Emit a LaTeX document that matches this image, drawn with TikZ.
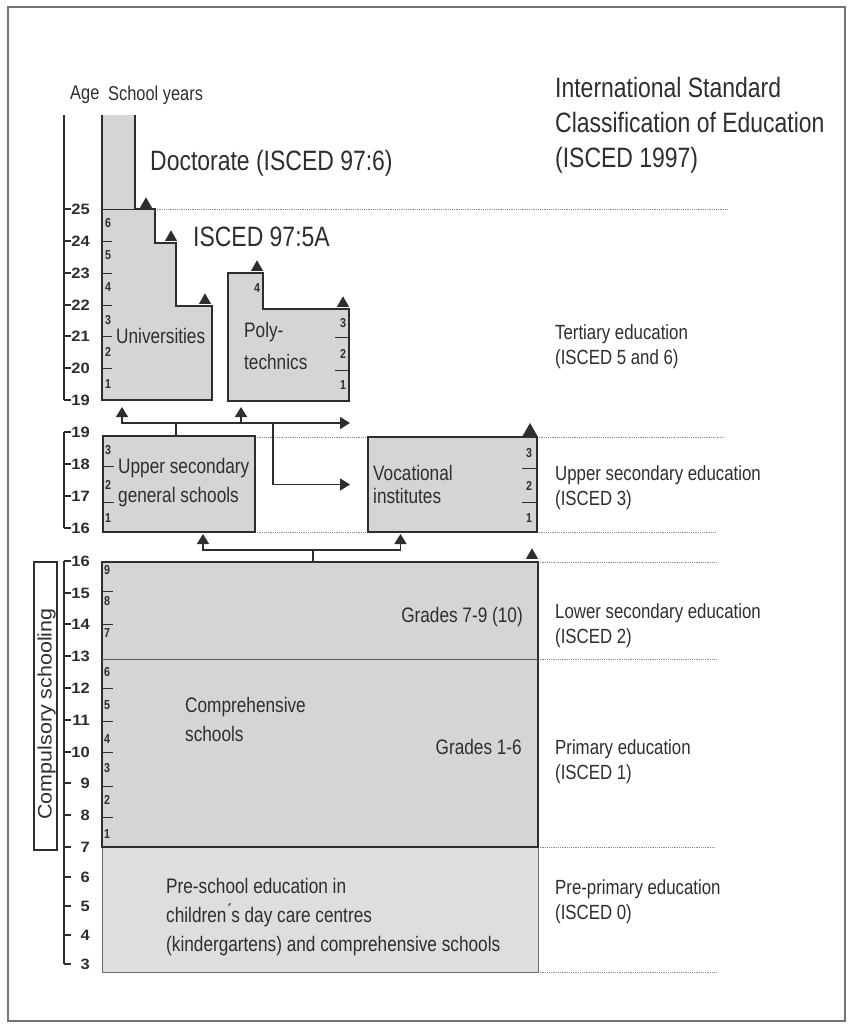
\documentclass[tikz,border=0pt]{standalone}
\usepackage{fontspec}
\setmainfont{Liberation Sans}[FakeStretch=0.82]
\newfontfamily\agefont{Liberation Sans}[FakeStretch=1.1]
\usetikzlibrary{arrows.meta,positioning,shapes.geometric}
\definecolor{ink}{HTML}{2E2E2E}
\definecolor{boxgray}{HTML}{D5D5D5}
\definecolor{palegray}{HTML}{DEDEDE}
\definecolor{rule}{HTML}{8A8A8A}
\tikzset{
    every picture/.style={line join=miter},
    schoolbox/.style={draw=ink,fill=boxgray,line width=2.2pt,inner sep=0pt,outer sep=0pt},
    levelline/.style={draw=rule,line width=0.9pt,dash pattern=on 1.2pt off 1pt},
    frameline/.style={draw=black!55,line width=1.2pt},
    agescale/.style={draw=ink,line width=1.4pt},
    yeartick/.style={draw=ink,line width=1pt},
    yearno/.style={font=\fontsize{13}{13}\selectfont\bfseries,text=ink,inner sep=0pt},
    agelabel/.style={font=\agefont\fontsize{15}{15}\selectfont\bfseries,anchor=east,inner sep=0pt,text=ink},
    headlabel/.style={font=\fontsize{20}{20}\selectfont,anchor=west,inner sep=0pt,text=ink},
    boxlabel/.style={font=\fontsize{21}{29}\selectfont,align=left,anchor=west,inner sep=0pt,text=ink},
    levellabel/.style={font=\fontsize{20.5}{25}\selectfont,align=left,anchor=west,inner sep=0pt,text=ink},
    biglabel/.style={font=\fontsize{28}{35}\selectfont,align=left,anchor=west,inner sep=0pt,text=ink},
    marker/.style={regular polygon,regular polygon sides=3,fill=ink,inner sep=0pt,
      minimum size=14pt,anchor=south},
    flowarrow/.style={-{Triangle[length=10pt,width=12pt]},draw=ink,line width=1.6pt},
    flowline/.style={draw=ink,line width=1.6pt}
}
\begin{document}
\begin{tikzpicture}[x=1pt,y=-1pt]
  \useasboundingbox (0,0) rectangle (852,1028);
  \draw[frameline] (8,7) rectangle (845,1021);

  % age scale, in three pieces
  \node[headlabel] (agehead) at (70,95) {Age};
  \node[headlabel] (yearhead) at (108,95) {School years};
  \draw[agescale] (64,115) -- (64,400);
  \foreach \age/\y in {25/209,24/241,23/273,22/305,21/336,20/368,19/400} {
    \draw[agescale] (64,\y) -- (71,\y);
    \node[agelabel] (tage\age) at (90,\y) {\age};
  }
  \draw[agescale] (64,432) -- (64,528);
  \foreach \age/\y in {19/432,18/464,17/496,16/528} {
    \draw[agescale] (64,\y) -- (71,\y);
    \node[agelabel] (uage\age) at (90,\y) {\age};
  }
  \draw[agescale] (64,561) -- (64,964);
  \foreach \age/\y in {16/561,15/593,14/624,13/656,12/688,11/720,10/752,9/783,8/815,
                       7/847,6/877,5/906,4/935,3/964} {
    \draw[agescale] (64,\y) -- (71,\y);
    \node[agelabel] (lage\age) at (90,\y) {\age};
  }
  \node[draw=ink,line width=1.2pt,minimum width=23pt,minimum height=288pt,inner sep=0pt]
    (compulsory) at (45.5,706) {};
  \node[rotate=90,font=\agefont\fontsize{19.5}{19.5}\selectfont,text=ink,inner sep=0pt]
    (compulsorytext) at ([xshift=1pt,yshift=-8pt]compulsory.center) {Compulsory schooling};

  % level lines
  \draw[levelline] (155,209) -- (728,209);
  \draw[levelline] (255,437) -- (368,437) (537,437) -- (722,437);
  \draw[levelline] (255,532) -- (368,532) (537,532) -- (717,532);
  \draw[levelline] (538,562) -- (718,562);
  \draw[levelline] (538,659) -- (718,659);
  \draw[levelline] (538,847) -- (715,847);
  \draw[levelline] (538,972) -- (718,972);

  % tertiary: doctorate and universities
  \fill[boxgray] (102,115) rectangle (135,209);
  \fill[boxgray] (102,209) -- (155,209) -- (155,243) -- (176,243) -- (176,306)
    -- (212,306) -- (212,400) -- (102,400) -- cycle;
  \draw[draw=ink,line width=2.2pt] (135,115) -- (135,209) -- (155,209) -- (155,243)
    -- (176,243) -- (176,306) -- (212,306) -- (212,400) -- (102,400) -- (102,115);
  \draw[yeartick] (102,209) -- (135,209);
  \foreach \y in {241,273,305,336,368}
    \draw[yeartick] (102,\y) -- (112,\y);
  \foreach \n/\y in {6/223,5/255,4/287,3/320,2/352,1/384}
    \node[yearno] (univyear\n) at (108,\y) {\n};
  \coordinate (univ-in) at (122,400);

  \draw[schoolbox] (228,273) -- (263,273) -- (263,309) -- (349,309) -- (349,401)
    -- (228,401) -- cycle;
  \foreach \y in {337,370}
    \draw[yeartick] (335,\y) -- (349,\y);
  \node[yearno] (polyyear4) at (257,288) {4};
  \foreach \n/\y in {3/323,2/354,1/385}
    \node[yearno] (polyyear\n) at (343,\y) {\n};
  \coordinate (poly-in) at (241,401);

  \node[marker] (doc-up) at (146,208) {};
  \node[marker] (masters-up) at (171,241) {};
  \node[marker] (univ-up) at (205,304) {};
  \node[marker] (poly-up) at (257,271) {};
  \node[marker] (polyend-up) at (343,307) {};

  \node[biglabel] (doctorate) at (150,163) {Doctorate (ISCED 97:6)};
  \node[biglabel] (isced5a) at (193,237) {ISCED 97:5A};
  \node[boxlabel] (univtext) at (116,336) {Universities};
  \node[boxlabel,font=\fontsize{21}{32}\selectfont] (polytext) at (244,346) {Poly-\\technics};

  % upper secondary
  \node[schoolbox,minimum width=152pt,minimum height=96pt] (gensec) at (179,484) {};
  \foreach \y in {466,502}
    \draw[yeartick] (103,\y) -- (114,\y);
  \foreach \n/\y in {3/450,2/485,1/518}
    \node[yearno] (gensecyear\n) at (108,\y) {\n};
  \node[boxlabel] (gensectext) at (118,483) {Upper secondary\\general schools};

  \node[schoolbox,minimum width=169pt,minimum height=95pt] (voc) at (452.5,484.5) {};
  \foreach \y in {468,502}
    \draw[yeartick] (522,\y) -- (537,\y);
  \foreach \n/\y in {3/453,2/486,1/518}
    \node[yearno] (vocyear\n) at (529,\y) {\n};
  \node[boxlabel,font=\fontsize{21}{23}\selectfont] (voctext) at (373,484) {Vocational\\institutes};
  \node[marker,minimum size=17pt] (voc-up) at (530,436) {};

  % comprehensive and pre-school
  \node[draw=ink!70,fill=palegray,line width=0.9pt,minimum width=436pt,minimum height=125pt,
    inner sep=0pt] (preschool) at (320,909.5) {};
  \node[schoolbox,minimum width=436pt,minimum height=285pt] (comp) at (320,704.5) {};
  \draw[yeartick,draw=ink!80,line width=0.8pt] (comp.west |- 0,659) -- (comp.east |- 0,659);
  \foreach \y in {591,624,688,721,752,786,817}
    \draw[yeartick] (102,\y) -- (113,\y);
  \foreach \n/\y in {9/570,8/601,7/633,6/672,5/705,4/739,3/768,2/800,1/834}
    \node[yearno] (compyear\n) at (107,\y) {\n};
  \node[marker] (comp-up) at (532,559) {};
  \node[boxlabel,anchor=east] (upper-grades) at (523,617) {Grades 7-9 (10)};
  \node[boxlabel] (comptext) at (185,719) {Comprehensive\\schools};
  \node[boxlabel,anchor=east] (lower-grades) at (522,747) {Grades 1-6};
  \node[boxlabel] (pretext) at (166,917)
    {Pre-school education in\\children\'{}s day care centres\\(kindergartens) and comprehensive schools};

  % connectors
  \coordinate (fork19) at (176,423);
  \coordinate (split) at (273,423);
  \draw[flowline] (gensec.north -| fork19) -- (fork19);
  \draw[flowarrow,shorten >=7pt] (fork19) -| (univ-in);
  \draw[flowarrow,shorten >=6pt] (fork19) -| (poly-in);
  \draw[flowarrow,shorten >=18pt] (fork19) -- (fork19 -| voc.west);
  \draw[flowarrow,shorten >=18pt] (split) |- (voc.west);
  \coordinate (fork16) at (313,550);
  \draw[flowline] (comp.north -| fork16) -- (fork16);
  \draw[flowarrow,shorten >=2pt] (fork16) -| ([xshift=24pt]gensec.south);
  \draw[flowarrow,shorten >=2pt] (fork16) -| ([xshift=-52pt]voc.south);

  % right column
  \node[biglabel] (title) at (555,125)
    {International Standard\\Classification of Education\\(ISCED 1997)};
  \node[levellabel] (tertiary) at (555,347) {Tertiary education\\(ISCED 5 and 6)};
  \node[levellabel] (uppersec) at (555,488) {Upper secondary education\\(ISCED 3)};
  \node[levellabel] (lowersec) at (555,626) {Lower secondary education\\(ISCED 2)};
  \node[levellabel] (primary) at (555,762) {Primary education\\(ISCED 1)};
  \node[levellabel] (preprimary) at (555,902) {Pre-primary education\\(ISCED 0)};
\end{tikzpicture}
\end{document}
